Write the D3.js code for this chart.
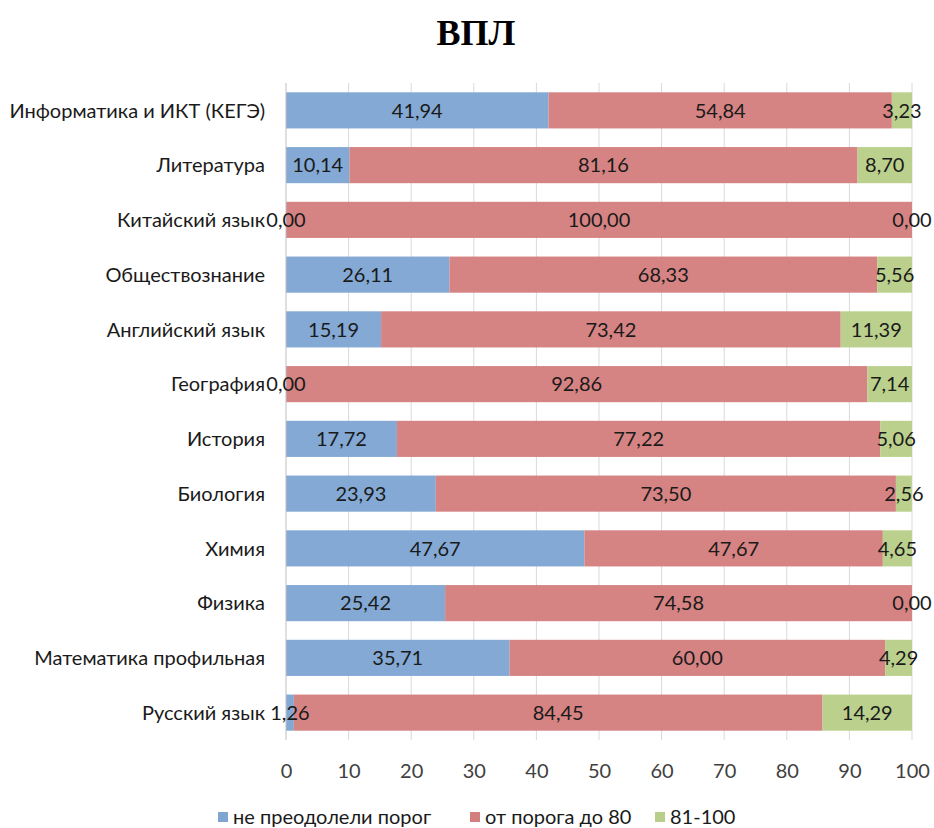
<!DOCTYPE html>
<html><head><meta charset="utf-8">
<script src="https://cdn.jsdelivr.net/npm/d3@7"></script>
<style>body{margin:0;background:#fff}</style>
</head><body>
<svg id="c" width="934" height="828"></svg>
<script>
const categories = ["Информатика и ИКТ (КЕГЭ)","Литература","Китайский язык","Обществознание","Английский язык","География","История","Биология","Химия","Физика","Математика профильная","Русский язык"];
const notPassed = [41.94,10.14,0.00,26.11,15.19,0.00,17.72,23.93,47.67,25.42,35.71,1.26];
const to80 = [54.84,81.16,100.00,68.33,73.42,92.86,77.22,73.50,47.67,74.58,60.00,84.45];
const top81 = [3.23,8.70,0.00,5.56,11.39,7.14,5.06,2.56,4.65,0.00,4.29,14.29];
const seriesNames = ["не преодолели порог","от порога до 80","81-100"];
const colors = ["#7fa6d3","#d47f7f","#b9ce89"];
const xTicks = [0,10,20,30,40,50,60,70,80,90,100];

const svg = d3.select("#c");
const font = "Lato, 'Open Sans', sans-serif";
const fs = 20;
const x = d3.scaleLinear().domain([0,100]).range([286,912]);
const y = d3.scaleBand().domain(categories).range([83,740]).paddingInner(0.34).paddingOuter(0.17);

const rows = categories.map((c,i)=>({cat:c, v:[notPassed[i],to80[i],top81[i]]}));
const stack = d3.stack().keys([0,1,2]).value((d,k)=>d.v[k]);
const stacked = stack(rows);

// gridlines
svg.append("g").selectAll("line").data(xTicks.slice(1)).join("line")
  .attr("x1",d=>x(d)).attr("x2",d=>x(d)).attr("y1",83).attr("y2",740)
  .attr("stroke","#d9d9d9").attr("stroke-width",1);

// bars
const layers = svg.append("g").selectAll("g").data(stacked).join("g").attr("fill",(d,i)=>colors[i]);
layers.selectAll("rect").data(d=>d).join("rect")
  .attr("x",d=>x(d[0])).attr("width",d=>x(d[1])-x(d[0]))
  .attr("y",d=>y(d.data.cat)).attr("height",y.bandwidth())
  .attr("fill-opacity",0.97);

// left axis line
svg.append("line").attr("x1",x(0)).attr("x2",x(0)).attr("y1",83).attr("y2",740)
  .attr("stroke","#bfbfbf");

// data labels (on top of all bars)
const fmt = v => d3.format(".2f")(v).replace(".",",");
const labelG = svg.append("g");
stacked.forEach(layer=>{
  labelG.append("g").selectAll("text").data(layer).join("text")
    .attr("x",d=>(x(d[0])+x(d[1]))/2).attr("y",d=>y(d.data.cat)+y.bandwidth()/2)
    .attr("dy","0.36em").attr("text-anchor","middle")
    .attr("font-family",font).attr("font-size",fs).attr("fill","#1a1a1a")
    .text(d=>fmt(d[1]-d[0]));
});

// category labels
svg.append("g").selectAll("text").data(categories).join("text")
  .attr("x",265).attr("y",d=>y(d)+y.bandwidth()/2).attr("dy","0.36em")
  .attr("text-anchor","end").attr("font-family",font).attr("font-size",fs).attr("fill","#1a1a1a")
  .text(d=>d);

// x axis
const xa = svg.append("g").attr("transform","translate(0,740)")
  .call(d3.axisBottom(x).tickValues(xTicks).tickSize(0).tickPadding(24).tickFormat(d3.format("d")));
xa.select(".domain").remove();
xa.selectAll("text").attr("font-family",font).attr("font-size",fs).attr("fill","#404040");

// title
svg.append("text").attr("x",476).attr("y",45).attr("text-anchor","middle")
  .attr("font-family","'Liberation Serif','Times New Roman',serif").attr("font-weight","bold")
  .attr("font-size",36).attr("fill","#000").text("ВПЛ");

// legend
const legendX = [218,470,655];
const lg = svg.append("g").selectAll("g").data(seriesNames).join("g")
  .attr("transform",(d,i)=>`translate(${legendX[i]},817)`);
lg.append("rect").attr("x",0).attr("y",-5).attr("width",10).attr("height",10).attr("fill",(d,i)=>colors[i]);
lg.append("text").attr("x",15).attr("y",0).attr("dy","0.36em")
  .attr("font-family",font).attr("font-size",fs).attr("fill","#1a1a1a").text(d=>d);
</script>
</body></html>
